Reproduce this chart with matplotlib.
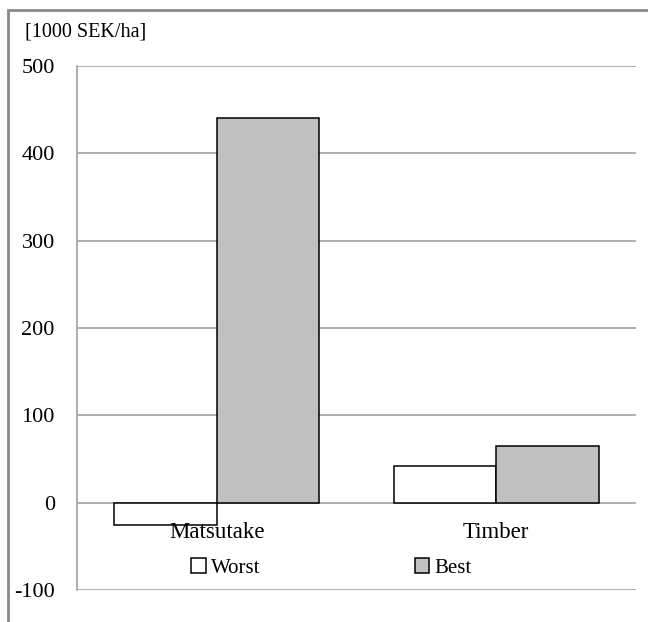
import matplotlib
matplotlib.use("Agg")
import matplotlib.pyplot as plt
from matplotlib.patches import Rectangle
import numpy as np

categories = ["Matsutake", "Timber"]
worst = [-26, 42]
best = [440, 65]
yticks = [-100, 0, 100, 200, 300, 400, 500]
unit_label = "[1000 SEK/ha]"

plt.rcParams["font.family"] = ["Liberation Serif", "DejaVu Serif"]

fig = plt.figure(figsize=(6.48, 6.22), dpi=100)
ax = fig.add_axes([0.1188, 0.0514, 0.8627, 0.8424])

# outer chart frame, open to the right and bottom like the original export
fig.patches.append(Rectangle((8 / 648, -0.1), 1.2, 1 - 10 / 622 + 0.1,
                             transform=fig.transFigure, fill=False,
                             edgecolor="#8a8a8a", lw=2.0))

x = np.arange(len(categories))
w = 0.366
ax.bar(x - w / 2, worst, w, color="white", edgecolor="black", lw=1.1, label="Worst", zorder=3)
ax.bar(x + w / 2, best, w, color="#c0c0c0", edgecolor="black", lw=1.1, label="Best", zorder=3)

ax.set_xlim(-0.5, 1.5)
ax.set_ylim(-100, 500)
ax.set_yticks(yticks)
ax.set_yticklabels([str(v) for v in yticks], fontsize=16)
ax.tick_params(axis="y", length=0, pad=16)
ax.set_xticks([])
ax.yaxis.grid(True, color="#a0a0a0", lw=1.2, zorder=0)
for s in ["top", "right", "bottom"]:
    ax.spines[s].set_visible(False)
ax.spines["left"].set_color("#a0a0a0")
ax.spines["left"].set_linewidth(1.2)

for i, c in enumerate(categories):
    ax.text(i, -34, c, ha="center", va="center", fontsize=16.5, zorder=4)

fig.text(25 / 648, 1 - 32 / 622, unit_label, fontsize=14.5, va="center", ha="left")

leg = ax.legend(loc="center", bbox_to_anchor=(0.455, 0.042), ncol=2, frameon=False,
                fontsize=15, handlelength=0.7, handleheight=0.7, handletextpad=0.25,
                columnspacing=7.4, borderaxespad=0)

fig.savefig("out.png", dpi=100)
